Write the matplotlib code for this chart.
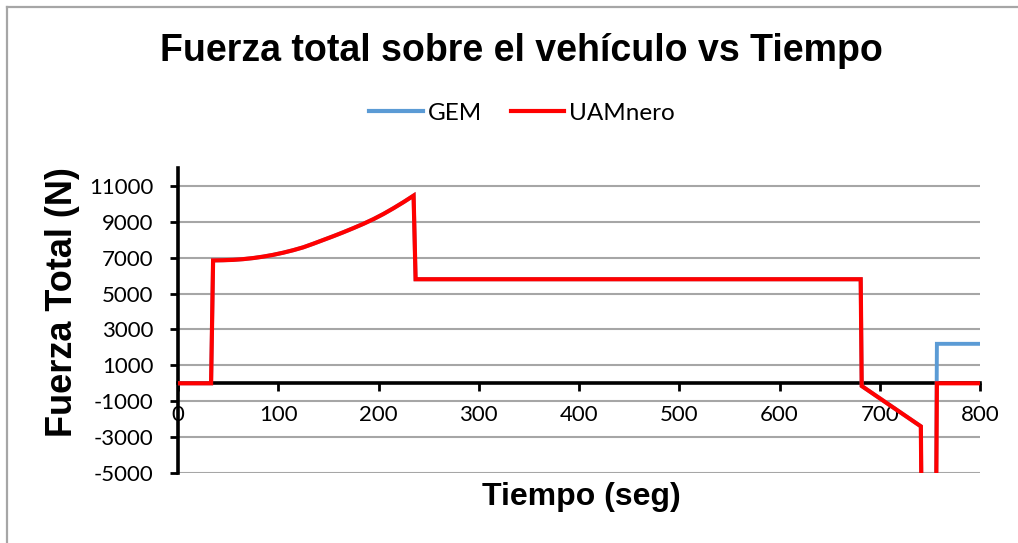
import matplotlib
matplotlib.use("Agg")
import matplotlib.pyplot as plt
from matplotlib.lines import Line2D

# ---- data ----
time_s = [0, 33, 35, 45, 55, 65, 75, 85, 95, 105, 115, 125, 135, 145, 155, 165,
          175, 185, 195, 205, 215, 225, 235, 237, 681, 682, 741, 742, 756, 757, 800]
uamnero = [0, 0, 6850, 6860, 6880, 6920, 6980, 7060, 7160, 7280, 7420, 7580, 7780,
           7990, 8200, 8420, 8650, 8890, 9150, 9440, 9760, 10100, 10460, 5800, 5800,
           -150, -2400, -9000, -9000, 0, 0]
gem = [0, 0, 6850, 6860, 6880, 6920, 6980, 7060, 7160, 7280, 7420, 7580, 7780,
       7990, 8200, 8420, 8650, 8890, 9150, 9440, 9760, 10100, 10460, 5800, 5800,
       -150, -2400, -9000, -9000, 2200, 2200]
y_ticks = [-5000, -3000, -1000, 1000, 3000, 5000, 7000, 9000, 11000]
y_tick_labels = ["-5000", "-3000", "-1000", "1000", "3000", "5000", "7000", "9000", "11000"]
x_ticks = [0, 100, 200, 300, 400, 500, 600, 700, 800]
x_tick_labels = ["0", "100", "200", "300", "400", "500", "600", "700", "800"]

title = "Fuerza total sobre el vehículo vs Tiempo"
xlabel = "Tiempo (seg)"
ylabel = "Fuerza Total (N)"

W, H = 1018, 543
fig = plt.figure(figsize=(W / 100, H / 100), dpi=100)
fig.patch.set_facecolor("white")

ax = fig.add_axes([178 / W, (H - 473) / H, (980 - 178) / W, (473 - 168) / H])
ax.set_xlim(0, 800)
ax.set_ylim(-5000, 12000)

blue = "#5B9BD5"
red = "#FF0000"
ax.plot(time_s, gem, color=blue, lw=2.8, zorder=3, solid_joinstyle="miter", label="GEM")
ax.plot(time_s, uamnero, color=red, lw=3.0, zorder=4, solid_joinstyle="miter", label="UAMnero")

# grid
ax.set_yticks(y_ticks)
ax.set_yticklabels(y_tick_labels)
ax.set_xticks(x_ticks)
ax.set_xticklabels(x_tick_labels)
ax.yaxis.grid(True, color="#a6a6a6", lw=1.5)
ax.set_axisbelow(True)

for s in ["top", "right", "bottom"]:
    ax.spines[s].set_visible(False)
ax.spines["bottom"].set_visible(True)
ax.spines["bottom"].set_position(("data", 0))
ax.spines["bottom"].set_linewidth(2.6)
ax.spines["left"].set_linewidth(2.6)
ax.spines["bottom"].set_zorder(2.5)

tick_font = "Lato"
ax.tick_params(axis="y", direction="out", length=5.5, width=2, pad=12,
               labelsize=16, colors="black")
ax.tick_params(axis="x", direction="out", length=5.5, width=2, pad=10,
               labelsize=16, colors="black")
for lab in ax.get_xticklabels() + ax.get_yticklabels():
    lab.set_fontfamily(tick_font)

# titles
fig.text(521 / W, 1 - 51 / H, title, ha="center", va="center",
         fontsize=27, fontweight="bold", family="Liberation Sans")
fig.text(581 / W, 1 - 497 / H, xlabel, ha="center", va="center",
         fontsize=23, fontweight="bold", family="Liberation Sans")
fig.text(63 / W, 1 - 302 / H, ylabel, ha="center", va="center", rotation=90,
         fontsize=26, fontweight="bold", family="Liberation Sans")

# legend
handles = [Line2D([], [], color=blue, lw=3), Line2D([], [], color=red, lw=3)]
leg = fig.legend(handles, ["GEM", "UAMnero"], loc="center", ncol=2,
                 bbox_to_anchor=(522 / W, 1 - 113 / H), frameon=False,
                 handlelength=2.2, handletextpad=0.2, columnspacing=1.2,
                 prop={"family": tick_font, "size": 17.5})

# chart border (top and left)
fig.add_artist(Line2D([7 / W, 1], [1 - 7 / H, 1 - 7 / H], color="#a6a6a6", lw=1.6,
                      transform=fig.transFigure))
fig.add_artist(Line2D([7 / W, 7 / W], [0, 1 - 7 / H], color="#a6a6a6", lw=1.6,
                      transform=fig.transFigure))

fig.savefig("out.png", dpi=100, facecolor="white")
